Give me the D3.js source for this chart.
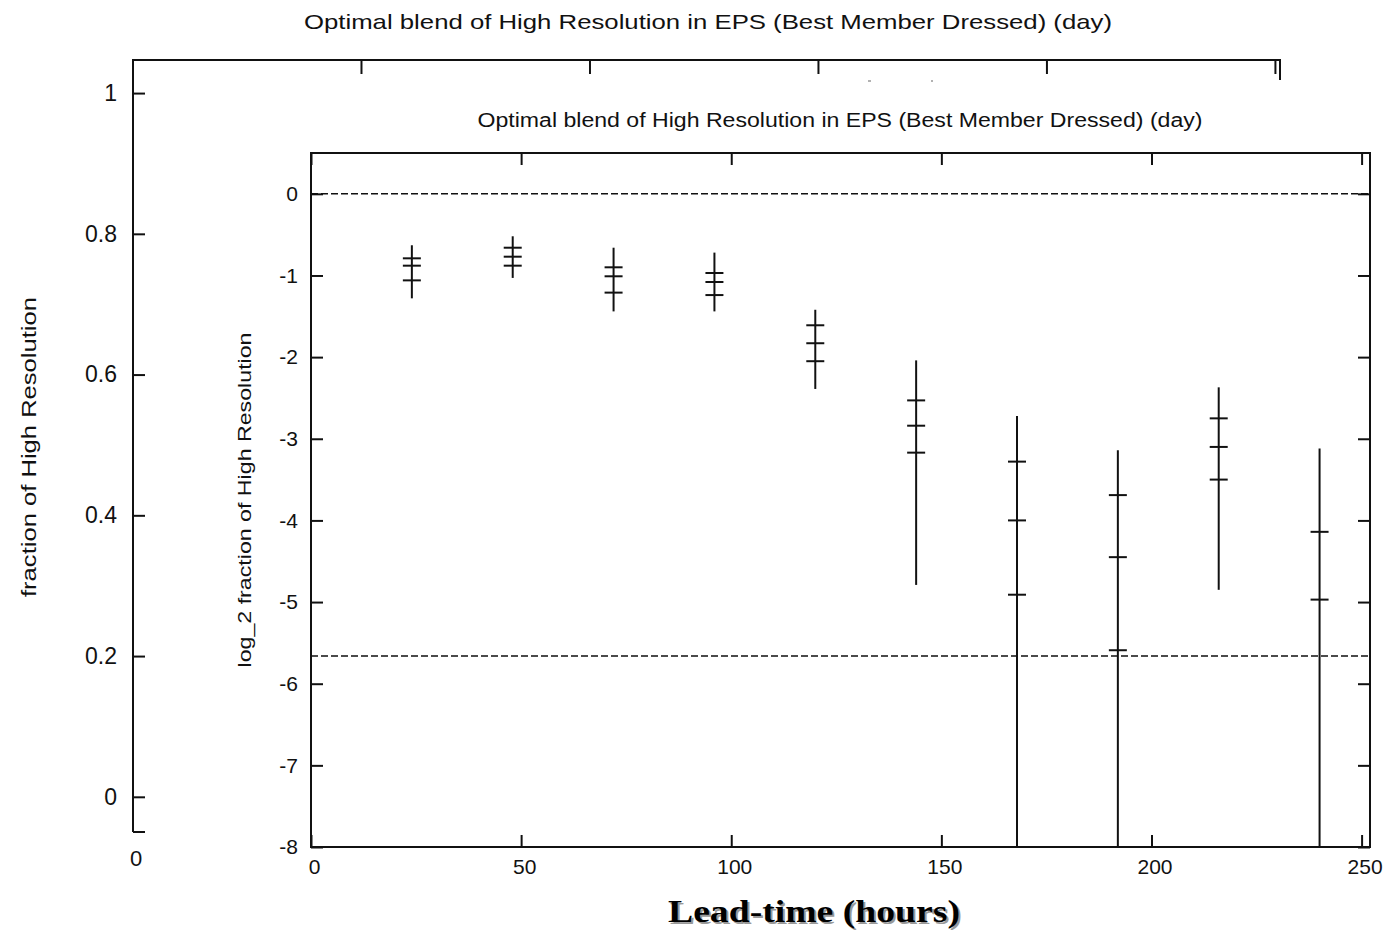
<!DOCTYPE html>
<html>
<head>
<meta charset="utf-8">
<script src="https://cdn.jsdelivr.net/npm/d3@7"></script>
<style>
  body { margin: 0; background: #fff; }
  svg text { font-family: "Liberation Sans", Arial, sans-serif; fill: #111; }
</style>
</head>
<body>
<svg id="chart" width="1386" height="930"></svg>
<script>
// inset data: log2 fraction of High Resolution per lead time
const leadTimes = [24, 48, 72, 96, 120, 144, 168, 192, 216, 240];
const whiskerHigh = [-0.63, -0.52, -0.66, -0.72, -1.42, -2.04, -2.72, -3.14, -2.37, -3.12];
const upperQ = [-0.79, -0.66, -0.90, -0.97, -1.61, -2.53, -3.28, -3.69, -2.75, -4.14];
const median = [-0.88, -0.77, -1.01, -1.08, -1.83, -2.84, -4.00, -4.45, -3.10, -4.97];
const lowerQ = [-1.06, -0.88, -1.21, -1.24, -2.05, -3.17, -4.91, -5.59, -3.50, -8.6];
const whiskerLow = [-1.28, -1.03, -1.44, -1.44, -2.39, -4.79, -9, -9, -4.85, -9];
const refLevels = [0, -5.66];

const insetYTicks = [0, -1, -2, -3, -4, -5, -6, -7, -8];
const insetXTicks = [0, 50, 100, 150, 200, 250];
const backYTicks = [0, 0.2, 0.4, 0.6, 0.8, 1];
const backXTicks = [50, 100, 150, 200, 250];

const title = "Optimal blend of High Resolution in EPS (Best Member Dressed) (day)";

const svg = d3.select("#chart");
const ink = "#111";
const plain = d => String(d); // hyphen minus, like the original

// ---- background chart (fraction of High Resolution) ----
const bx = d3.scaleLinear().domain([0, 251]).range([133, 1280]);
const by = d3.scaleLinear().domain([-0.05, 1.047]).range([832, 60]);

const back = svg.append("g");
back.append("path")
  .attr("d", `M${bx(0)},${by(-0.05)}V${by(1.047)}H${bx(251)}V80`)
  .attr("fill", "none").attr("stroke", ink).attr("stroke-width", 2);
back.append("line")
  .attr("x1", bx(0)).attr("x2", bx(0) + 12)
  .attr("y1", by(-0.05)).attr("y2", by(-0.05))
  .attr("stroke", ink).attr("stroke-width", 2);

const backYAxis = back.append("g")
  .attr("transform", `translate(${bx(0)},0)`)
  .call(d3.axisLeft(by).tickValues(backYTicks).tickSize(-12).tickPadding(16)
    .tickFormat(d => d === 0 || d === 1 ? d3.format("d")(d) : d3.format(".1f")(d)));
backYAxis.select(".domain").remove();
backYAxis.selectAll("line").attr("stroke", ink).attr("stroke-width", 2);
backYAxis.selectAll("text").attr("font-size", 23).attr("fill", ink);

back.selectAll(".topTick").data(backXTicks).join("line")
  .attr("x1", d => bx(d)).attr("x2", d => bx(d))
  .attr("y1", by(1.047)).attr("y2", by(1.047) + 14)
  .attr("stroke", ink).attr("stroke-width", 2);

back.append("text")
  .attr("x", 136).attr("y", 866).attr("text-anchor", "middle")
  .attr("font-size", 22).text("0");

back.append("text")
  .attr("transform", "translate(36,447) rotate(-90)")
  .attr("text-anchor", "middle").attr("font-size", 21)
  .attr("textLength", 300).attr("lengthAdjust", "spacingAndGlyphs")
  .text("fraction of High Resolution");

back.append("text")
  .attr("x", 708).attr("y", 29).attr("text-anchor", "middle")
  .attr("font-size", 21).attr("textLength", 808).attr("lengthAdjust", "spacingAndGlyphs")
  .text(title);

// small leftover marks
back.append("line").attr("x1", 868).attr("x2", 871).attr("y1", 81).attr("y2", 81)
  .attr("stroke", "#999").attr("stroke-width", 1.5);
back.append("line").attr("x1", 931).attr("x2", 933).attr("y1", 81).attr("y2", 81)
  .attr("stroke", "#999").attr("stroke-width", 1.5);

// ---- inset chart (log_2 fraction) ----
svg.append("rect").attr("x", 150).attr("y", 84).attr("width", 1236).attr("height", 846)
  .attr("fill", "#fff");

const x = d3.scaleLinear().domain([0, 252]).range([311, 1370]);
const y = d3.scaleLinear().domain([-8, 0.5]).range([847, 153]);

svg.append("defs").append("clipPath").attr("id", "plotClip")
  .append("rect").attr("x", 311).attr("y", 153).attr("width", 1059).attr("height", 694);

const inset = svg.append("g");

// mirrored inward ticks
const xb = inset.append("g").attr("transform", `translate(0,${y(-8)})`)
  .call(d3.axisBottom(x).tickValues(insetXTicks).tickSize(-12).tickPadding(12).tickFormat(plain));
xb.selectAll("text").attr("dx", 3);
const xt = inset.append("g").attr("transform", `translate(0,${y(0.5)})`)
  .call(d3.axisTop(x).tickValues(insetXTicks).tickSize(-12).tickFormat(""));
const yl = inset.append("g").attr("transform", `translate(${x(0)},0)`)
  .call(d3.axisLeft(y).tickValues(insetYTicks).tickSize(-12).tickPadding(13).tickFormat(plain));
const yr = inset.append("g").attr("transform", `translate(${x(252)},0)`)
  .call(d3.axisRight(y).tickValues(insetYTicks).tickSize(-12).tickFormat(""));
[xb, xt, yl, yr].forEach(g => {
  g.select(".domain").remove();
  g.selectAll("line").attr("stroke", ink).attr("stroke-width", 2);
  g.selectAll("text").attr("font-size", 21).attr("fill", ink);
});

inset.append("rect")
  .attr("x", x(0)).attr("y", y(0.5))
  .attr("width", x(252) - x(0)).attr("height", y(-8) - y(0.5))
  .attr("fill", "none").attr("stroke", ink).attr("stroke-width", 2);

inset.selectAll(".ref").data(refLevels).join("line")
  .attr("x1", x(0)).attr("x2", x(252))
  .attr("y1", d => y(d)).attr("y2", d => y(d))
  .attr("stroke", ink).attr("stroke-width", 1.6)
  .attr("stroke-dasharray", "7,3");

const bars = inset.append("g").attr("clip-path", "url(#plotClip)");
leadTimes.forEach((t, i) => {
  bars.append("line")
    .attr("x1", x(t)).attr("x2", x(t))
    .attr("y1", y(whiskerHigh[i])).attr("y2", y(whiskerLow[i]))
    .attr("stroke", ink).attr("stroke-width", 2);
  [upperQ[i], median[i], lowerQ[i]].forEach(v => {
    bars.append("line")
      .attr("x1", x(t) - 9).attr("x2", x(t) + 9)
      .attr("y1", y(v)).attr("y2", y(v))
      .attr("stroke", ink).attr("stroke-width", 2);
  });
});

inset.append("text")
  .attr("x", 840).attr("y", 127).attr("text-anchor", "middle")
  .attr("font-size", 20).attr("textLength", 725).attr("lengthAdjust", "spacingAndGlyphs")
  .text(title);

inset.append("text")
  .attr("transform", "translate(251,500) rotate(-90)")
  .attr("text-anchor", "middle").attr("font-size", 19)
  .attr("textLength", 335).attr("lengthAdjust", "spacingAndGlyphs")
  .text("log_2 fraction of High Resolution");

// x label with soft shadow
const xLabel = "Lead-time (hours)";
svg.append("text")
  .attr("x", 816).attr("y", 924).attr("text-anchor", "middle")
  .attr("font-weight", "bold").attr("font-size", 32)
  .attr("textLength", 292).attr("lengthAdjust", "spacingAndGlyphs")
  .style("font-family", "'Liberation Serif', serif")
  .style("fill", "#999").text(xLabel);
svg.append("text")
  .attr("x", 814).attr("y", 922).attr("text-anchor", "middle")
  .attr("font-weight", "bold").attr("font-size", 32)
  .attr("textLength", 292).attr("lengthAdjust", "spacingAndGlyphs")
  .style("font-family", "'Liberation Serif', serif")
  .style("fill", "#000").text(xLabel);
</script>
</body>
</html>
